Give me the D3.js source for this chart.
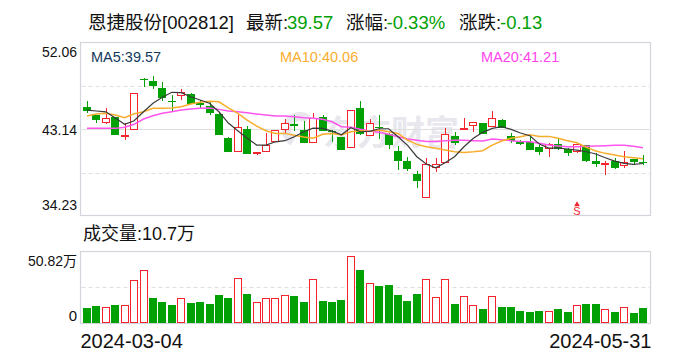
<!DOCTYPE html>
<html><head><meta charset="utf-8">
<style>html,body{margin:0;padding:0;background:#fff}svg{display:block}text{font-family:"Liberation Sans","Noto Sans CJK SC",sans-serif}</style>
<script src="https://cdn.jsdelivr.net/npm/d3@7"></script></head><body>
<svg id="c" width="688" height="360"></svg>
<script>
const dates=d3.range(60).map(i=>i);
const axisDates=["2024-03-04","2024-05-31"];
const priceTicks=[52.06,43.14,34.23];
const openP=[45.42,44.56,43.87,44.42,42.47,43.17,48.37,48.12,47.39,46.09,46.70,46.77,45.79,45.53,44.70,42.18,40.83,43.11,40.62,40.83,41.86,43.17,43.66,43.04,41.76,44.38,42.93,42.34,41.24,45.32,42.55,43.32,42.59,40.86,39.82,38.47,36.06,39.20,39.69,42.38,43.18,43.52,43.76,43.42,44.07,42.41,41.82,41.82,41.27,41.14,41.58,41.10,40.89,41.48,39.82,39.56,39.82,39.38,40.03,39.70];
const closeP=[45.04,44.07,44.25,42.55,42.57,46.84,48.19,47.60,46.36,45.98,46.95,45.73,45.68,44.80,42.55,40.79,43.32,40.58,40.75,41.51,43.07,43.73,43.48,41.72,44.31,42.90,42.83,40.96,45.08,42.65,43.73,43.21,41.48,39.82,38.99,37.75,39.48,39.54,42.59,41.72,43.24,43.90,42.62,44.25,43.21,41.90,41.58,40.96,40.75,41.58,41.10,40.68,41.55,39.85,39.51,39.65,39.10,39.75,39.72,39.57];
const highP=[46.04,44.59,45.32,44.42,43.76,46.84,48.43,48.64,48.02,46.67,47.29,46.87,46.15,45.94,44.90,42.31,44.59,43.45,40.75,42.76,43.07,44.15,44.59,44.00,44.77,44.59,43.04,42.34,45.08,46.04,44.18,44.59,42.73,41.38,40.24,38.78,40.10,40.10,43.21,42.80,44.25,43.90,43.76,45.01,44.18,42.73,42.00,42.34,41.48,41.66,42.10,41.17,41.58,41.48,40.62,39.85,40.10,40.86,40.03,40.44];
const lowP=[44.80,43.79,43.66,42.55,42.00,43.17,47.53,47.29,46.04,45.04,46.15,45.73,45.29,44.59,42.55,40.75,40.83,40.58,40.44,40.83,41.86,42.76,42.96,41.72,41.76,42.90,41.79,40.96,41.24,42.52,42.55,42.07,41.07,38.89,38.78,37.02,36.06,38.68,39.69,41.48,43.14,42.86,42.62,43.42,43.21,41.66,41.48,40.96,40.44,40.27,40.96,40.34,40.62,39.72,39.23,38.37,38.99,39.13,39.44,39.44];
const ma5=[45.11,45.01,44.93,44.28,43.63,44.00,44.93,45.81,46.43,46.95,46.91,46.49,46.15,45.81,44.93,43.76,42.96,42.18,41.48,41.48,41.82,41.93,42.34,42.86,43.24,43.21,42.93,42.55,43.27,42.86,42.90,43.17,43.17,42.34,41.48,40.27,39.51,39.13,39.65,40.27,41.30,42.18,42.80,43.21,43.38,43.11,42.73,42.45,41.58,41.17,41.17,41.07,40.96,40.79,40.55,40.16,39.82,39.58,39.48,39.57];
const ma10=[44.49,44.69,44.77,44.59,44.31,44.73,44.93,45.29,45.29,45.32,45.45,45.73,45.91,46.01,45.97,45.34,44.77,44.07,43.45,42.96,42.69,42.69,42.49,42.31,42.18,42.59,42.69,42.52,42.86,42.96,42.90,43.04,42.86,42.69,42.00,41.55,41.30,41.14,40.96,40.79,40.72,40.79,40.89,41.48,41.90,42.18,42.34,42.55,42.38,42.38,42.18,41.93,41.72,41.24,40.86,40.62,40.44,40.27,40.16,40.06];
const ma20=[43.21,43.21,43.21,43.21,43.32,43.63,44.18,44.52,44.77,44.93,45.11,45.21,45.29,45.32,45.18,45.01,44.93,44.83,44.70,44.59,44.49,44.49,44.42,44.31,44.25,44.15,43.90,43.38,43.32,43.11,42.93,42.80,42.59,42.34,42.10,41.97,41.86,41.86,41.93,41.97,41.97,41.93,41.90,42.10,42.03,41.93,41.86,41.82,41.66,41.48,41.38,41.30,41.30,41.35,41.38,41.41,41.45,41.45,41.35,41.21];
const volume=[10.7,12.1,11.4,12.8,12.6,30.4,37.5,17.8,14.9,12.8,17.6,14.2,14.9,13.5,19.9,18.0,32.0,20.8,14.9,17.8,17.8,19.9,19.4,15.1,31.3,15.9,15.1,16.6,47.6,37.9,28.4,26.5,27.2,20.1,15.9,20.8,31.3,18.5,31.3,13.7,19.2,12.8,10.2,19.2,11.6,11.6,8.7,8.0,8.7,8.5,10.2,8.0,12.8,13.7,13.7,10.0,8.0,11.4,7.3,10.7];
const volUp=[0,0,1,0,1,1,1,0,0,0,1,0,0,0,0,0,1,0,1,1,1,1,0,0,1,0,0,0,1,0,1,0,0,0,0,0,1,1,1,0,1,1,0,1,0,0,0,0,0,1,0,0,1,0,0,1,0,1,0,0];
const RED="#f5242c",GREEN="#01a005",FRAME="#d4d4dc",GRID="#dfdfdf",INK="#111";
const svg=d3.select("#c");
const px0=80.5,px1=650.5,py0=42.5,py1=215.5,vy0=251.5,vy1=323.5;
const x=d3.scalePoint().domain(dates).range([87,643]);
const y=d3.scaleLinear().domain([34.23,52.06]).range([215,43]);
const yv=d3.scaleLinear().domain([0,50.82]).range([323,251.5]);
const px=i=>Math.round(x(i));
// watermark
const wm=svg.append("g").attr("fill","#e7e7ed");
wm.append("text").attr("x",323).attr("y",145).attr("font-size",34).attr("font-weight","bold").text("东方财富");
wm.append("path").attr("transform","translate(300,130)").attr("d",d3.arc()({innerRadius:9,outerRadius:18,startAngle:-2.6,endAngle:0.6}));
// frames and grid
const frame=(t,b)=>svg.append("rect").attr("x",px0).attr("y",t).attr("width",px1-px0).attr("height",b-t).attr("fill","none").attr("stroke",FRAME).attr("stroke-width",1.2);
frame(py0,py1);frame(vy0,vy1);
const grid=(yy,d)=>svg.append("line").attr("x1",px0+1).attr("x2",px1-1).attr("y1",yy).attr("y2",yy).attr("stroke",GRID).attr("stroke-width",1).attr("stroke-dasharray",d);
grid(86.5,"4 3");grid(129.5,null);grid(173.5,"4 3");grid(287.5,"4 3");
const ax=(t,xx,yy,fs,anchor,fill)=>svg.append("text").attr("x",xx).attr("y",yy).attr("font-size",fs).attr("text-anchor",anchor||"start").attr("fill",fill||INK).text(t);
const f2=d3.format(".2f");
ax(f2(priceTicks[0]),77,57,14,"end");
ax(f2(priceTicks[1]),77,135,14,"end");
ax(f2(priceTicks[2]),77,210,14,"end");
ax("50.82万",77,266,14,"end");
ax("0",77,321,15,"end");
ax(axisDates[0],80.5,348,20);
ax(axisDates[1],651.5,348,20,"end");
// volume
svg.append("g").selectAll("rect").data(dates).join("rect")
 .attr("x",i=>volUp[i]?px(i)-3.5:px(i)-4).attr("width",i=>volUp[i]?7:8)
 .attr("y",i=>{const t=Math.round(yv(volume[i]));return volUp[i]?t+.5:t;})
 .attr("height",i=>{const t=Math.round(yv(volume[i]));return volUp[i]?322.5-t-.5:323-t;})
 .attr("fill",i=>volUp[i]?"#fff":GREEN).attr("stroke",i=>volUp[i]?RED:"none").attr("stroke-width",1);
// candles
const cg=svg.append("g");
dates.forEach(i=>{
 const up=closeP[i]>=openP[i],c=up?RED:GREEN,top=Math.round(y(Math.max(openP[i],closeP[i]))),bot=Math.round(y(Math.min(openP[i],closeP[i]))),X=px(i);
 const hi=Math.round(y(highP[i])),lo=Math.round(y(lowP[i]));
 cg.append("line").attr("x1",X+.5).attr("x2",X+.5).attr("y1",hi).attr("y2",top).attr("stroke",c).attr("stroke-width",1);
 cg.append("line").attr("x1",X+.5).attr("x2",X+.5).attr("y1",bot).attr("y2",lo).attr("stroke",c).attr("stroke-width",1);
 if(up) cg.append("rect").attr("x",X-3.5).attr("width",7).attr("y",top+.5).attr("height",Math.max(bot-top,0)).attr("fill","#fff").attr("stroke",c);
 else cg.append("rect").attr("x",X-4).attr("width",8).attr("y",top).attr("height",Math.max(bot-top,1)).attr("fill",c);
});
const line=d3.line().x((d,i)=>x(i)).y(d=>y(d));
[[ma20,"#ff55ee",1.5],[ma10,"#f9ad2d",1.5],[ma5,"#3a3a3a",1.2]].forEach(([a,c,w])=>svg.append("path").attr("d",line(a)).attr("fill","none").attr("stroke",c).attr("stroke-width",w));
ax("MA5:39.57",91,62,14.5,"start","#123a5c");
ax("MA10:40.06",280,62,14.5,"start","#f9ad2d");
ax("MA20:41.21",481,62,14.5,"start","#ff44ee");
ax("成交量:10.7万",83,240,18);
// title
[["恩捷股份[002812]",88,INK],["最新:",246,INK],["39.57",287,GREEN],["涨幅:",346,INK],["-0.33%",386.5,GREEN],["涨跌:",459,INK],["-0.13",500,GREEN]]
 .forEach(([s,xx,c])=>ax(s,xx,29,18.5,"start",c));
// S marker
svg.append("text").attr("x",577).attr("y",214.5).attr("font-size",11).attr("text-anchor","middle").attr("fill",RED).text("S");
svg.append("path").attr("d",d3.symbol(d3.symbolTriangle,14)()).attr("transform","translate(577,204.5)").attr("fill",RED);
</script></body></html>
